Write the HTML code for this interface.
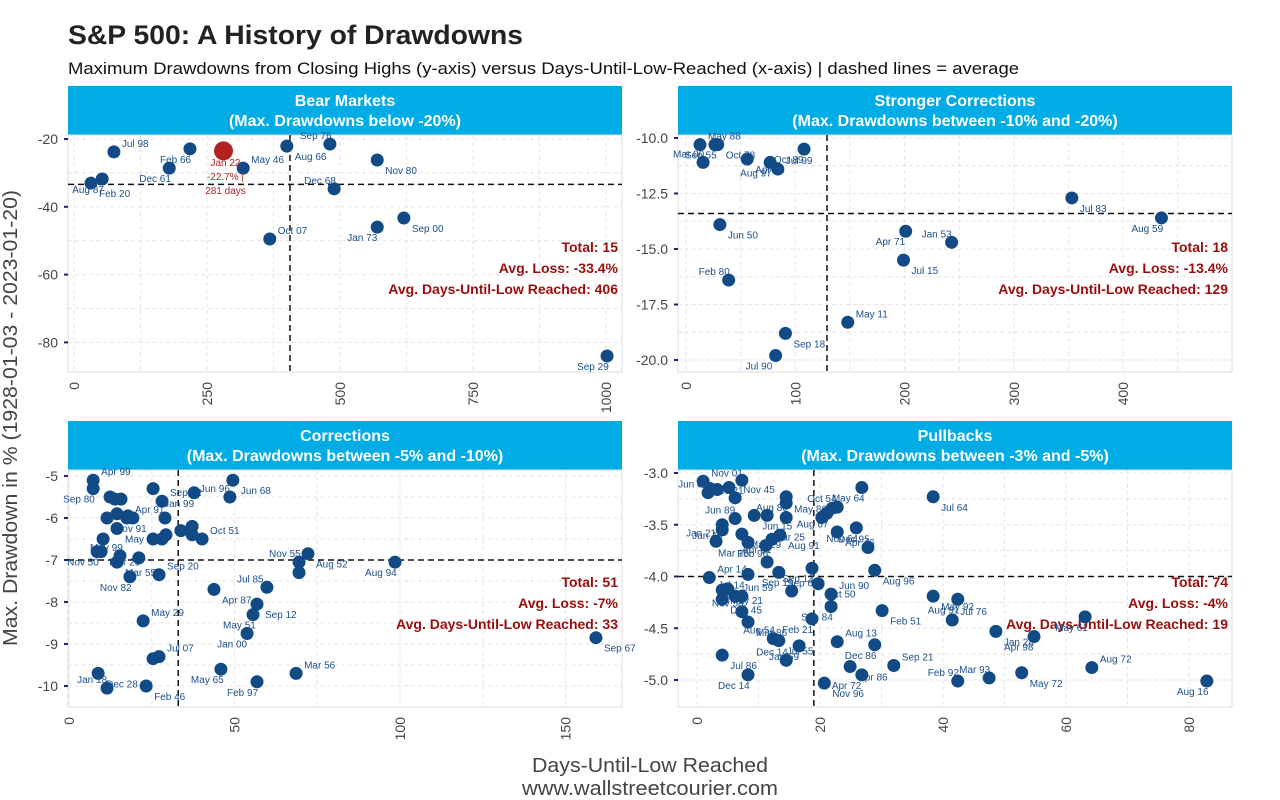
<!DOCTYPE html>
<html><head><meta charset="utf-8"><style>
body{margin:0;background:#fff;}
svg{display:block;font-family:"Liberation Sans",Arial,sans-serif;}
</style></head><body>
<svg id="chart" width="1280" height="800" viewBox="0 0 1280 800">
<rect width="1280" height="800" fill="#ffffff"/>
<text x="68" y="44" font-size="27" font-weight="bold" fill="#222" textLength="455" lengthAdjust="spacingAndGlyphs">S&amp;P 500: A History of Drawdowns</text>
<text x="68" y="74" font-size="17" fill="#111" textLength="951" lengthAdjust="spacingAndGlyphs">Maximum Drawdowns from Closing Highs (y-axis) versus Days-Until-Low-Reached (x-axis) | dashed lines = average</text>
<text x="17" y="418" font-size="20" fill="#444" text-anchor="middle" textLength="456" lengthAdjust="spacingAndGlyphs" transform="rotate(-90 17 418)">Max. Drawdown in % (1928-01-03 - 2023-01-20)</text>
<text x="650" y="772" font-size="20" fill="#444" text-anchor="middle" textLength="236" lengthAdjust="spacingAndGlyphs">Days-Until-Low Reached</text>
<text x="650" y="795" font-size="20" fill="#444" text-anchor="middle" textLength="256" lengthAdjust="spacingAndGlyphs">www.wallstreetcourier.com</text>
<g id="panels"></g>
</svg>
<script>
// Bear markets
const bearLabels=["Jul 98","Feb 66","Aug 66","Sep 76","Nov 80","Dec 61","May 46","Aug 87","Feb 20","Dec 68","Sep 00","Jan 73","Oct 07","Sep 29"];
const bearDays=[75,218,400,481,570,179,318,53,32,489,620,570,368,1002];
const bearLoss=[-23.8,-22.9,-22.1,-21.5,-26.2,-28.6,-28.6,-31.8,-33.0,-34.7,-43.3,-46.0,-49.5,-84.0];
const currentLabel=["Jan 22","-22.7% |","281 days"];
const currentDays=[281];
const currentLoss=[-23.5];
// Stronger corrections
const strongLabels=["May 88","Sep 55","Oct 78","Mar 00","Apr 12","Aug 97","Jul 99","Oct 89","Jun 50","Feb 80","Sep 18","Jul 90","May 11","Apr 71","Jul 15","Jan 53","Jul 83","Aug 59"];
const strongDays=[12.8,26.5,29,15.6,56,77,84,108,31,39,91,82,148,201,199,243,353,435];
const strongLoss=[-10.3,-10.3,-10.3,-11.1,-10.95,-11.1,-11.4,-10.5,-13.9,-16.4,-18.8,-19.8,-18.3,-14.2,-15.5,-14.7,-12.7,-13.6];
// Corrections
const corrLabels=["Apr 99","Sep 80","","","","","Sep 92","Jan 99","Jun 68","Jun 96","Nov 91","","","","","Apr 91","May 19","","","","","","","","Oct 51","Nov 50","Mar 29","May 99","Mar 55","","Sep 20","Nov 82","Apr 87","Jul 85","Sep 12","May 51","May 29","Jan 00","Aug 52","Nov 55","","","Jul 07","May 65","Dec 28","Jan 18","Feb 46","Feb 97","Mar 56","Aug 94","Sep 67"];
const corrDays=[7.3,7.3,12.4,13.9,15.7,25.4,28.1,37.8,49.5,48.6,11.5,14.5,17.8,19.3,17.5,29,14.5,10.3,25.4,28.1,29.3,33.8,37.2,37.2,40.2,8.5,9.7,15.4,14.5,21.1,27.2,18.4,43.8,59.8,56.8,55.6,22.4,53.8,72.2,69.5,69.5,25.4,27.2,45.9,8.8,11.5,23.3,56.8,68.6,98.5,159.2];
const corrLoss=[-5.1,-5.3,-5.5,-5.55,-5.55,-5.3,-5.6,-5.4,-5.1,-5.5,-6.0,-5.9,-5.95,-6.0,-6.0,-6.0,-6.25,-6.5,-6.5,-6.5,-6.4,-6.3,-6.2,-6.4,-6.5,-6.8,-6.8,-6.9,-7.05,-6.95,-7.35,-7.4,-7.7,-7.65,-8.05,-8.3,-8.45,-8.75,-6.85,-7.05,-7.3,-9.35,-9.3,-9.6,-9.7,-10.05,-10.0,-9.9,-9.7,-7.05,-8.85];
// Pullbacks
const pullLabels=["Nov 01","","","Jun 07","","Dec 21","Nov 45","Aug 80","","Jun 89","Jun 15","","May 86","Jan 46","","Jan 21","Mar 29","Mar 15","Mar 25","Apr 61","Aug 91","Feb 96","Sep 61","Jul 14","Apr 14","Sep 13","Oct 50","Sep 19","May 21","","Jun 59","","Dec 45","Nov 58","Mar 86","Feb 21","Jun 90","Sep 84","Feb 51","Aug 54","Jul 55","Jan 69","Aug 13","Dec 86","Jul 86","Dec 14","Apr 86","Apr 72","Sep 21","Dec 14","Nov 96","Feb 92","May 92","Aug 91","Jul 76","May 64","Jul 64","Oct 54","","Aug 67","","Nov 64","Apr 46","Dec 95","Aug 96","May 61","Aug 72","Apr 98","Jan 28","Mar 93","May 72","Aug 16"];
const pullDays=[1.0,2.1,3.3,1.8,5.2,7.3,6.2,14.5,14.5,6.2,9.3,11.4,14.5,4.1,4.1,3.1,7.3,8.3,11.2,12.2,13.5,11.4,13.3,8.3,2.0,18.7,19.7,15.4,4.1,5.0,6.2,7.3,4.1,7.3,8.3,18.7,21.8,21.8,30.1,12.4,13.3,16.6,22.8,28.9,4.1,14.5,24.9,26.8,32.0,8.3,20.7,42.4,38.4,42.4,41.5,26.8,38.4,22.8,22.0,21.1,20.3,25.9,22.8,27.8,28.9,63.1,64.2,54.8,48.6,47.5,52.8,82.9];
const pullLoss=[-3.08,-3.15,-3.16,-3.19,-3.14,-3.07,-3.24,-3.23,-3.29,-3.44,-3.41,-3.41,-3.43,-3.5,-3.55,-3.66,-3.59,-3.67,-3.7,-3.64,-3.6,-3.86,-3.96,-3.98,-4.01,-3.92,-4.07,-4.14,-4.13,-4.12,-4.19,-4.19,-4.22,-4.34,-4.44,-4.41,-4.17,-4.29,-4.33,-4.6,-4.62,-4.67,-4.63,-4.66,-4.76,-4.81,-4.87,-4.95,-4.86,-4.95,-5.03,-5.01,-4.19,-4.22,-4.42,-3.14,-3.23,-3.33,-3.34,-3.39,-3.43,-3.53,-3.57,-3.72,-3.94,-4.39,-4.88,-4.58,-4.53,-4.98,-4.93,-5.01];
const bearTicksX=[0,250,500,750,1000], bearTicksY=[-20,-40,-60,-80];
const strongTicksX=[0,100,200,300,400], strongTicksY=[-10,-12.5,-15,-17.5,-20];
const corrTicksX=[0,50,100,150], corrTicksY=[-5,-6,-7,-8,-9,-10];
const pullTicksX=[0,20,40,60,80], pullTicksY=[-3,-3.5,-4,-4.5,-5];
const bearStats=["Total: 15","Avg. Loss: -33.4%","Avg. Days-Until-Low Reached: 406"], bearAvg=[406,-33.4];
const strongStats=["Total: 18","Avg. Loss: -13.4%","Avg. Days-Until-Low Reached: 129"], strongAvg=[129,-13.4];
const corrStats=["Total: 51","Avg. Loss: -7%","Avg. Days-Until-Low Reached: 33"], corrAvg=[33,-7];
const pullStats=["Total: 74","Avg. Loss: -4%","Avg. Days-Until-Low Reached: 19"], pullAvg=[19,-4];

const NS="http://www.w3.org/2000/svg";
const root=document.getElementById('panels');
function mk(tag,attrs,parent){const e=document.createElementNS(NS,tag);for(const k in attrs)e.setAttribute(k,attrs[k]);(parent||root).appendChild(e);return e;}

function panel(cfg){
  const g=mk('g',{});
  
  
  const L=cfg.left,R=cfg.left+554,T=cfg.top,B=cfg.top+237;
  const xs=d=>cfg.x0+d*cfg.sx, ys=v=>cfg.y0+(cfg.v0-v)*cfg.sy;
  const h=mk('rect',{x:L,y:T-49,width:554,height:49,fill:'#00ACE6'},g);
  
  
  const t1=mk('text',{x:(L+R)/2,y:T-29,'font-size':16,'font-weight':'bold',fill:'#fff','text-anchor':'middle'},g);t1.textContent=cfg.title;
  
  
  const t2=mk('text',{x:(L+R)/2,y:T-9,'font-size':16,'font-weight':'bold',fill:'#fff','text-anchor':'middle'},g);t2.textContent=cfg.sub;
  
  
  const tx=cfg.tx,ty=cfg.ty;
  const gx=[],gy=[];
  tx.forEach((v,i)=>{gx.push(v); if(i<tx.length-1) gx.push((v+tx[i+1])/2);});
  gx.push(tx[tx.length-1]+(tx[1]-tx[0])/2);
  ty.forEach((v,i)=>{gy.push(v); if(i<ty.length-1) gy.push((v+ty[i+1])/2);});
  gy.push(ty[0]-(ty[0]-ty[1])/2); gy.push(ty[ty.length-1]+(ty[0]-ty[1])/2);
  gx.forEach(v=>{const x=xs(v); if(x>L&&x<R) mk('line',{x1:x,x2:x,y1:T,y2:B,stroke:'#e6e6e6','stroke-dasharray':'4 3'},g);});
  gy.forEach(v=>{const y=ys(v); if(y>T&&y<B) mk('line',{x1:L,x2:R,y1:y,y2:y,stroke:'#e6e6e6','stroke-dasharray':'4 3'},g);});
  mk('rect',{x:L,y:T,width:554,height:237,fill:'none',stroke:'#dcdcdc'},g);
  tx.forEach(v=>{const x=xs(v);
    const t=mk('text',{x:x+5,y:B+10,'font-size':14,fill:'#444','text-anchor':'end',transform:`rotate(-90 ${x+5} ${B+10})`},g);
    t.textContent=String(v);
    
    });
  ty.forEach(v=>{const y=ys(v);
    mk('line',{x1:L-4,x2:L,y1:y,y2:y,stroke:'#1a237e','stroke-width':2},g);
    const t=mk('text',{x:L-10,y:y+5,'font-size':14,fill:'#444','text-anchor':'end'},g);
    t.textContent=cfg.fmt?v.toFixed(1):String(v);
    
    });
  const ax=xs(cfg.avg[0]), ay=ys(cfg.avg[1]);
  const vl=mk('line',{x1:ax,x2:ax,y1:T,y2:B,stroke:'#111','stroke-width':1.5,'stroke-dasharray':'6 4'},g);
  
  
  const hl=mk('line',{x1:L,x2:R,y1:ay,y2:ay,stroke:'#111','stroke-width':1.5,'stroke-dasharray':'6 4'},g);
  
  
  cfg.stats.forEach((s,i)=>{const t=mk('text',{x:R-4,y:T+117+i*21,'font-size':14,'font-weight':'bold',fill:'#9b0d0d','text-anchor':'end'},g);
    t.textContent=s;
    
    });
  cfg.days.forEach((d,i)=>{const x=xs(d),y=ys(cfg.loss[i]);
    const c=mk('circle',{cx:x,cy:y,r:6.5,fill:'#124A86'},g);
    
    
    if(cfg.labels[i]){const t=mk('text',{x:x+(i%2?-30:8),y:y+(i%3==0?-5:14),'font-size':10,fill:'#1B4F8C'},g);
      t.textContent=cfg.labels[i];
      
      }
  });
  return {g,xs,ys};
}
const p1=panel({name:'bear-markets',title:'Bear Markets',sub:'(Max. Drawdowns below -20%)',left:68,top:135,x0:74,sx:0.532,y0:139,v0:-20,sy:3.39,tx:bearTicksX,ty:bearTicksY,avg:bearAvg,stats:bearStats,days:bearDays,loss:bearLoss,labels:bearLabels});
currentDays.forEach((d,i)=>{const x=p1.xs(d),y=p1.ys(currentLoss[i]);
  const c=mk('circle',{cx:x,cy:y,r:9.5,fill:'#B22222'},p1.g);
  
  
  currentLabel.forEach((s,j)=>{const t=mk('text',{x:x+2,y:y+15+j*14,'font-size':10,fill:'#B22222','text-anchor':'middle'},p1.g);
    t.textContent=s;
    
    });
});
panel({name:'stronger-corrections',title:'Stronger Corrections',sub:'(Max. Drawdowns between -10% and -20%)',left:678,top:135,x0:686,sx:1.093,y0:138,v0:-10,sy:22.2,tx:strongTicksX,ty:strongTicksY,fmt:true,avg:strongAvg,stats:strongStats,days:strongDays,loss:strongLoss,labels:strongLabels});
panel({name:'corrections',title:'Corrections',sub:'(Max. Drawdowns between -5% and -10%)',left:68,top:470,x0:69,sx:3.31,y0:476,v0:-5,sy:42,tx:corrTicksX,ty:corrTicksY,avg:corrAvg,stats:corrStats,days:corrDays,loss:corrLoss,labels:corrLabels});
panel({name:'pullbacks',title:'Pullbacks',sub:'(Max. Drawdowns between -3% and -5%)',left:678,top:470,x0:697,sx:6.15,y0:473,v0:-3,sy:103.5,tx:pullTicksX,ty:pullTicksY,fmt:true,avg:pullAvg,stats:pullStats,days:pullDays,loss:pullLoss,labels:pullLabels});
</script>
</body></html>
